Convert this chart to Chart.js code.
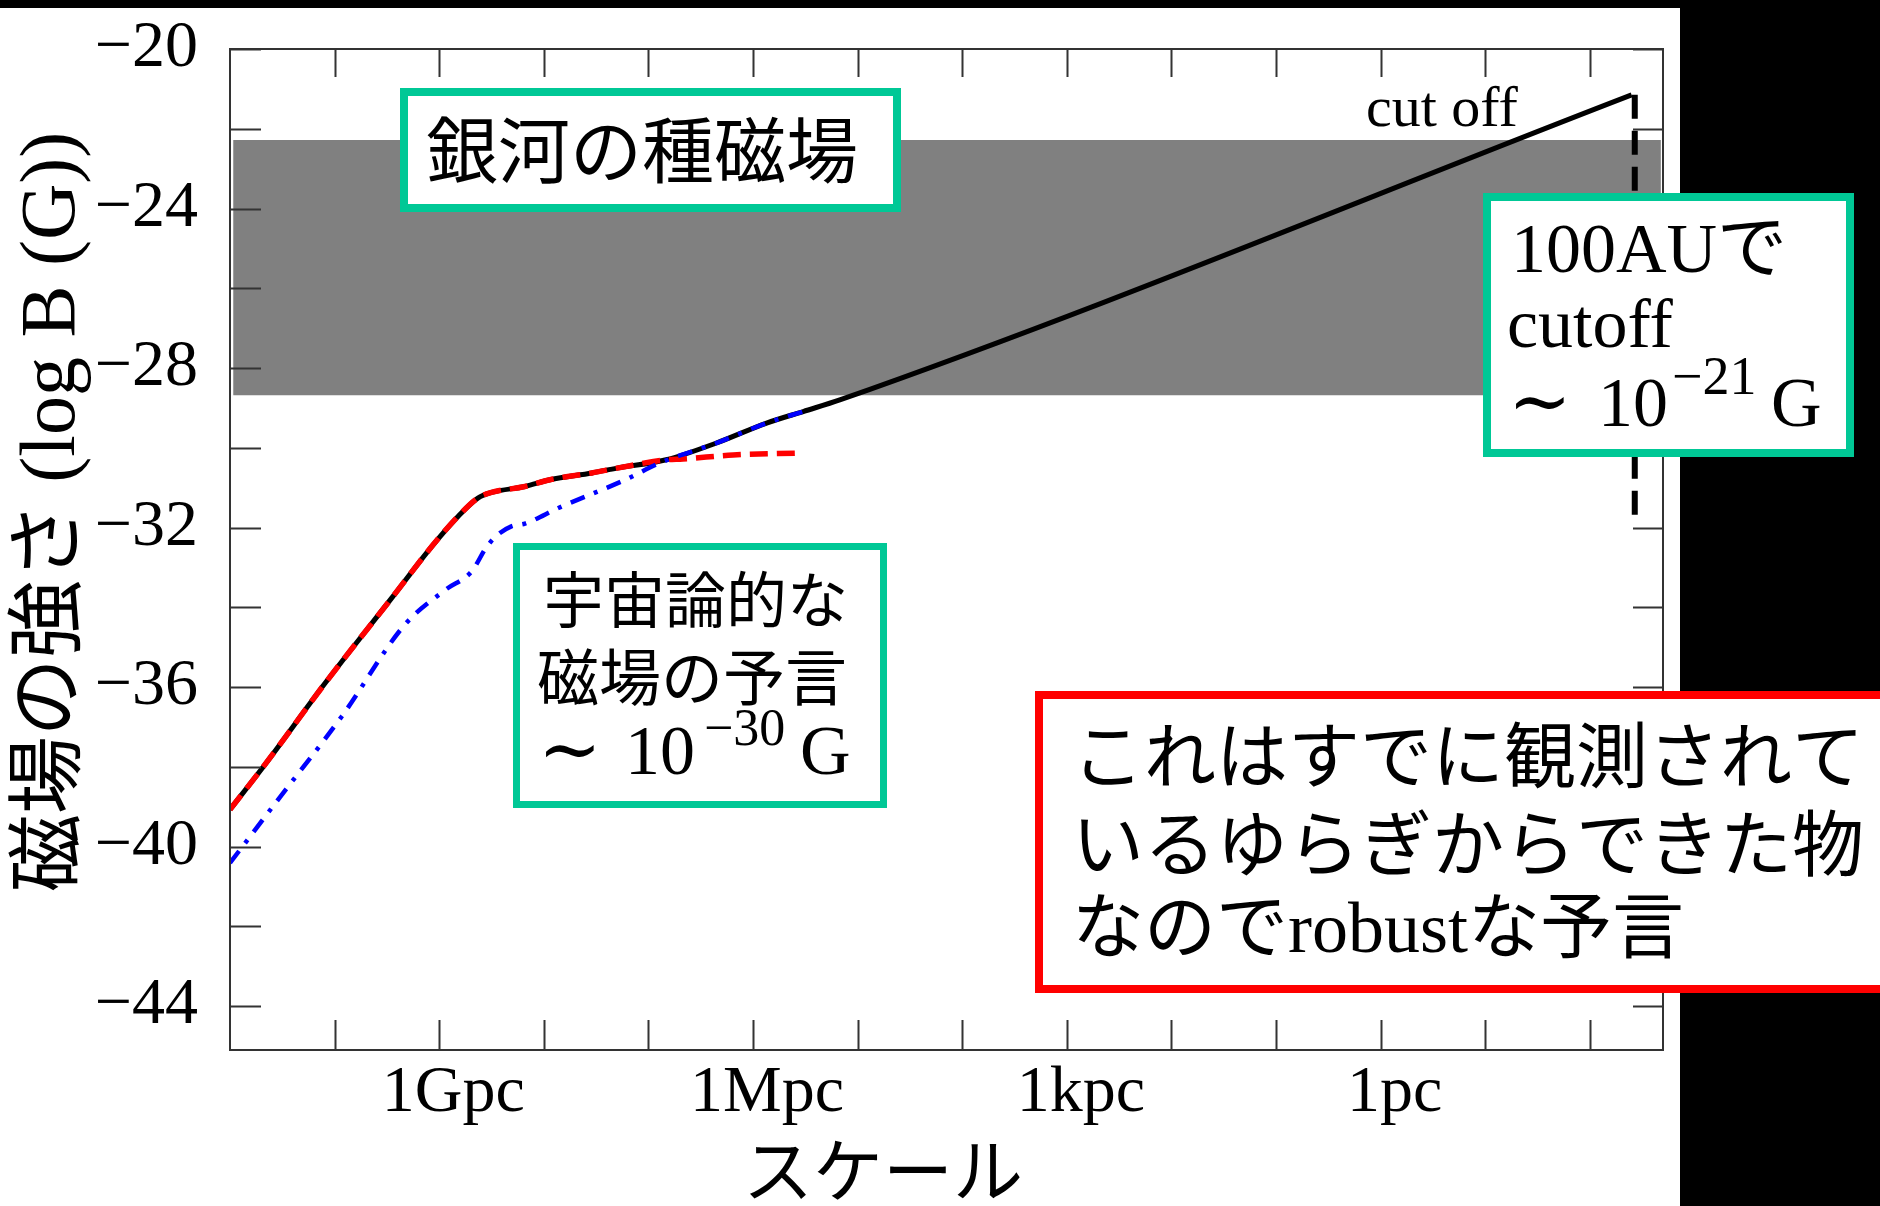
<!DOCTYPE html>
<html>
<head>
<meta charset="utf-8">
<script src="https://cdn.jsdelivr.net/npm/chart.js@4.4.1/dist/chart.umd.min.js"></script>
<style>
    html, body { margin: 0; padding: 0; background: #000; }
    #wrap { width: 1880px; height: 1206px; }
</style>
</head>
<body>
<div id="wrap"><canvas id="grafico" width="1880" height="1206"></canvas></div>
<script>
// Eixo x: -log10(escala / pc)  |  Eixo y: log B (G)
const xTickValues = [-10, -9, -8, -7, -6, -5, -4, -3, -2, -1, 0, 1, 2];
const xTickLabels = { '-9': '1Gpc', '-6': '1Mpc', '-3': '1kpc', '0': '1pc' };
const yTickValues = [-44, -42, -40, -38, -36, -34, -32, -30, -28, -26, -24, -22, -20];

// Faixa cinza (campo semente galáctico)
const bandX = [-10.97, 2.68];
const bandTop = -22.28;
const bandBottom = -28.68;

// Curva preta (total, até o cut off)
const blackX = [-11, -10.665, -10.09, -9.455, -9.07, -8.82, -8.63, -8.5, -8.18, -7.94, -7.54, -7.3, -6.83, -6.35, -5.87, -5.52, -5.17, 2.40];
const blackY = [-39.07, -37.94, -35.9, -33.77, -32.47, -31.72, -31.26, -31.12, -30.97, -30.8, -30.63, -30.51, -30.3, -29.88, -29.38, -29.09, -28.8, -21.15];

// Curva vermelha tracejada
const redX = [-11, -10.665, -10.09, -9.455, -9.07, -8.82, -8.63, -8.5, -8.18, -7.94, -7.54, -7.3, -6.83, -6.67, -6.19, -5.55];
const redY = [-39.07, -37.94, -35.9, -33.77, -32.47, -31.72, -31.26, -31.12, -30.97, -30.8, -30.63, -30.51, -30.3, -30.28, -30.18, -30.13];

// Curva azul traço-ponto
const blueX = [-11, -10.54, -9.93, -9.33, -8.94, -8.69, -8.55, -8.45, -8.31, -8.18, -7.86, -7.22, -6.89, -6.35, -5.87, -5.52];
const blueY = [-40.41, -38.82, -36.73, -34.44, -33.56, -33.1, -32.5, -32.2, -31.97, -31.9, -31.51, -30.8, -30.38, -29.88, -29.38, -29.09];

// Linha vertical do cut off (100AU)
const cutoffX = [2.43, 2.43];
const cutoffY = [-21.15, -31.8];

// Textos
const yTitle = '磁場の強さ (log B (G))';
const xTitle = 'スケール';
const box1Text = '銀河の種磁場';
const box2Lines = ['宇宙論的な', '磁場の予言'];
const box3Lines = ['100AUで', 'cutoff'];
const box4Lines = ['これはすでに観測されて', 'いるゆらぎからできた物', 'なのでrobustな予言'];

const SERIF = '"Liberation Serif", "DejaVu Serif", "Noto Sans CJK JP"';
const CJK = '"Noto Sans CJK JP", "Liberation Serif"';
const TEAL = '#00c896';

function toPoints(xs, ys) {
    return xs.map((x, i) => ({ x: x, y: ys[i] }));
}

// Desenha uma caixa branca com borda colorida
function caixa(ctx, x0, y0, x1, y1, cor, esp) {
    ctx.fillStyle = '#fff';
    ctx.fillRect(x0, y0, x1 - x0, y1 - y0);
    ctx.strokeStyle = cor;
    ctx.lineWidth = esp;
    ctx.strokeRect(x0 + esp / 2, y0 + esp / 2, x1 - x0 - esp, y1 - y0 - esp);
}

function texto(ctx, str, x, y, size, family, align = 'left', baseline = 'alphabetic') {
    ctx.font = size + 'px ' + family;
    ctx.textAlign = align;
    ctx.textBaseline = baseline;
    ctx.fillStyle = '#000';
    ctx.fillText(str, x, y);
}

// Fundo: branco com as faixas pretas da captura
const fundoPlugin = {
    id: 'fundo',
    beforeDraw(chart) {
        const ctx = chart.ctx;
        ctx.save();
        ctx.fillStyle = '#fff';
        ctx.fillRect(0, 0, chart.width, chart.height);
        ctx.fillStyle = '#000';
        ctx.fillRect(0, 0, chart.width, 8);
        ctx.fillRect(1680, 0, chart.width - 1680, chart.height);
        ctx.restore();
    }
};

// Moldura e marcas de escala para dentro
const molduraPlugin = {
    id: 'moldura',
    afterDatasetsDraw(chart) {
        const { ctx, chartArea: a, scales: { x, y } } = chart;
        ctx.save();
        ctx.strokeStyle = '#333';
        ctx.lineWidth = 2;
        ctx.strokeRect(a.left, a.top, a.right - a.left, a.bottom - a.top);
        ctx.beginPath();
        xTickValues.forEach(v => {
            const px = Math.round(x.getPixelForValue(v)) + 0.5;
            ctx.moveTo(px, a.bottom);
            ctx.lineTo(px, a.bottom - 30);
            ctx.moveTo(px, a.top);
            ctx.lineTo(px, a.top + 28);
        });
        yTickValues.forEach(v => {
            const py = Math.round(y.getPixelForValue(v)) + 0.5;
            ctx.moveTo(a.left, py);
            ctx.lineTo(a.left + 31, py);
            ctx.moveTo(a.right, py);
            ctx.lineTo(a.right - 30, py);
        });
        ctx.stroke();
        ctx.restore();
    }
};

// Títulos dos eixos, rótulo do cut off e caixas de anotação
const anotacoesPlugin = {
    id: 'anotacoes',
    afterDraw(chart) {
        const ctx = chart.ctx;
        ctx.save();

        // título do eixo y (girado)
        ctx.save();
        ctx.translate(54, 512);
        ctx.rotate(-Math.PI / 2);
        texto(ctx, yTitle, 0, 0, 78, SERIF, 'center', 'middle');
        ctx.restore();

        // título do eixo x
        texto(ctx, xTitle, 883, 1170, 70, CJK, 'center', 'middle');

        // rótulo "cut off"
        texto(ctx, 'cut off', 1366, 126, 58, SERIF);

        // caixa 1
        caixa(ctx, 400, 88, 901, 212, TEAL, 8);
        texto(ctx, box1Text, 426, 150, 72, CJK, 'left', 'middle');

        // caixa 2
        caixa(ctx, 513, 543, 887, 808, TEAL, 7);
        texto(ctx, box2Lines[0], 543, 600, 61, CJK, 'left', 'middle');
        texto(ctx, box2Lines[1], 537, 677, 62, CJK, 'left', 'middle');
        texto(ctx, '∼', 538, 775, 76, SERIF);
        texto(ctx, '10', 625, 774, 70, SERIF);
        texto(ctx, '−30', 704, 745, 52, SERIF);
        texto(ctx, 'G', 800, 774, 70, SERIF);

        // caixa 3
        caixa(ctx, 1483, 193, 1854, 457, TEAL, 8);
        texto(ctx, box3Lines[0], 1511, 272, 70, SERIF);
        texto(ctx, box3Lines[1], 1507, 347, 70, SERIF);
        texto(ctx, '∼', 1508, 427, 76, SERIF);
        texto(ctx, '10', 1598, 426, 70, SERIF);
        texto(ctx, '−21', 1672, 394, 54, SERIF);
        texto(ctx, 'G', 1771, 426, 70, SERIF);

        // caixa 4 (vermelha)
        caixa(ctx, 1035, 691, 1900, 993, '#ff0000', 8);
        texto(ctx, box4Lines[0], 1072, 755, 72, CJK, 'left', 'middle');
        texto(ctx, box4Lines[1], 1072, 843, 72, CJK, 'left', 'middle');
        texto(ctx, box4Lines[2], 1072, 933, 72, SERIF, 'left', 'middle');

        ctx.restore();
    }
};

const ctx = document.getElementById('grafico').getContext('2d');

const myChart = new Chart(ctx, {
    type: 'line',
    data: {
        datasets: [
            {
                label: 'faixa topo',
                data: toPoints(bandX, [bandTop, bandTop]),
                borderWidth: 0,
                pointRadius: 0,
                fill: '+1',
                backgroundColor: '#808080',
                order: 10
            },
            {
                label: 'faixa base',
                data: toPoints(bandX, [bandBottom, bandBottom]),
                borderWidth: 0,
                pointRadius: 0,
                fill: false,
                order: 10
            },
            {
                label: 'total',
                data: toPoints(blackX, blackY),
                borderColor: '#000',
                borderWidth: 5,
                pointRadius: 0,
                cubicInterpolationMode: 'monotone',
                fill: false,
                order: 3
            },
            {
                label: 'vermelho',
                data: toPoints(redX, redY),
                borderColor: '#ff0000',
                borderWidth: 5.5,
                borderDash: [18, 9],
                pointRadius: 0,
                cubicInterpolationMode: 'monotone',
                fill: false,
                order: 2
            },
            {
                label: 'azul',
                data: toPoints(blueX, blueY),
                borderColor: '#0000ff',
                borderWidth: 4.5,
                borderDash: [15, 10, 4, 10],
                pointRadius: 0,
                cubicInterpolationMode: 'monotone',
                fill: false,
                order: 1
            },
            {
                label: 'cut off',
                data: toPoints(cutoffX, cutoffY),
                borderColor: '#000',
                borderWidth: 6,
                borderDash: [24, 12],
                pointRadius: 0,
                fill: false,
                order: 0
            }
        ]
    },
    options: {
        responsive: false,
        animation: false,
        devicePixelRatio: 1,
        layout: {
            padding: { left: 0, top: 49, right: 217, bottom: 0 }
        },
        plugins: {
            legend: { display: false },
            tooltip: { enabled: false }
        },
        scales: {
            x: {
                type: 'linear',
                min: -11,
                max: 2.7,
                grid: { display: false },
                border: { display: false },
                afterBuildTicks: scale => {
                    scale.ticks = xTickValues.map(v => ({ value: v }));
                },
                afterFit: scale => {
                    scale.height = 156;
                    scale.paddingLeft = 0;
                    scale.paddingRight = 0;
                },
                ticks: {
                    autoSkip: false,
                    maxRotation: 0,
                    padding: -4,
                    labelOffset: 14,
                    color: '#000',
                    font: { family: SERIF, size: 66 },
                    callback: value => xTickLabels[String(value)] || ''
                }
            },
            y: {
                type: 'linear',
                min: -45.1,
                max: -20,
                grid: { display: false },
                border: { display: false },
                afterBuildTicks: scale => {
                    scale.ticks = yTickValues.map(v => ({ value: v }));
                },
                afterFit: scale => {
                    // o rótulo -20 não deve empurrar a área do gráfico
                    scale.width = 230;
                    scale.paddingTop = 0;
                    scale.paddingBottom = 0;
                },
                ticks: {
                    autoSkip: false,
                    padding: 24,
                    color: '#000',
                    font: { family: SERIF, size: 66 },
                    callback: value => (value % 4 === 0 ? '−' + Math.abs(value) : '')
                }
            }
        }
    },
    plugins: [fundoPlugin, molduraPlugin, anotacoesPlugin]
});
</script>
</body>
</html>
